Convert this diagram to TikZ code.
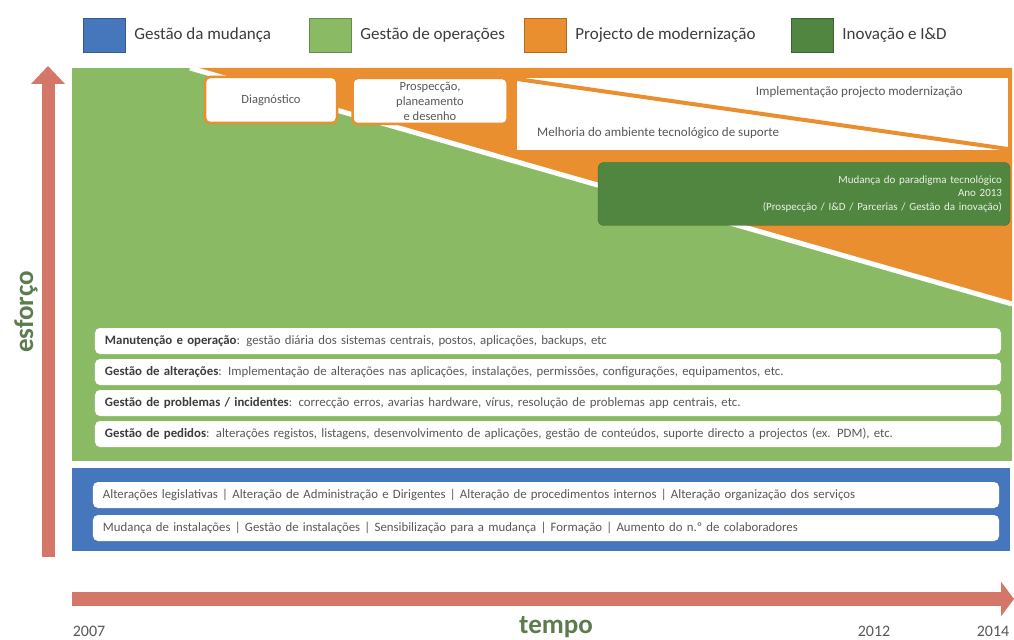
\documentclass[tikz,border=0pt]{standalone}
\usepackage{fontspec}
\setmainfont{Carlito}
\usetikzlibrary{arrows.meta, positioning}

\definecolor{mudanca}{RGB}{70,118,188}
\definecolor{operacoes}{RGB}{138,186,99}
\definecolor{modernizacao}{RGB}{234,143,48}
\definecolor{inovacao}{RGB}{80,134,64}
\definecolor{axisred}{RGB}{212,118,104}
\definecolor{labelgreen}{RGB}{92,124,78}
\definecolor{textgray}{RGB}{88,88,88}
\definecolor{boldgray}{RGB}{60,60,60}

\begin{document}
\begin{tikzpicture}[x=1bp, y=-1bp, node distance=31bp,
	legendbox/.style={draw=#1!75!black, fill=#1, minimum width=42bp, minimum height=34bp, inner sep=0pt},
	legendtext/.style={text=boldgray, font=\fontsize{17bp}{19bp}\selectfont, inner sep=0pt},
	task/.style={draw=modernizacao, line width=2.5bp, fill=white, rounded corners=5bp, text=textgray, align=center, font=\fontsize{12.5bp}{15bp}\selectfont},
	note/.style={text=textgray, font=\fontsize{13bp}{15bp}\selectfont, inner sep=0pt},
	bar/.style={fill=white, rounded corners=5bp, minimum height=26bp, text width=886bp, inner xsep=10bp, inner ysep=0pt, align=left, text=textgray, font=\fontsize{12.8bp}{14bp}\selectfont},
	axis/.style={draw=axisred, line width=13bp, -{Triangle[width=33bp, length=18bp]}},
	axislabel/.style={text=labelgreen, inner sep=0pt, font=\bfseries\fontsize{27bp}{29bp}\selectfont},
	year/.style={text=textgray, inner sep=0pt, font=\fontsize{16bp}{18bp}\selectfont}
]
	\useasboundingbox (0,0) rectangle (1014,640);

	\fill[operacoes] (72,68) rectangle (1012,461);
	\fill[modernizacao] (190,68) -- (1012,68) -- (1012,304) -- cycle;
	\begin{scope}
		\clip (72,68) rectangle (1012,461);
		\draw[white, line width=5bp] (190,68) -- (1012,304);
	\end{scope}
	\fill[white] (517,78) rectangle (1008,150);
	\draw[modernizacao, line width=4bp] (517,79) -- (1008,149);

	\node[task, minimum width=132bp, minimum height=46bp] (diag) at (271,100) {Diagnóstico};
	\node[task, minimum width=155bp, minimum height=46bp] (prosp) at (430,101) {Prospecção,\\planeamento\\e desenho};
	\node[note, anchor=east] (impl) at (963,92) {Implementação projecto modernização};
	\node[note, anchor=west] (melh) at (537,133) {Melhoria do ambiente tecnológico de suporte};

	\node[fill=inovacao, draw=inovacao!80!black, rounded corners=6bp, minimum width=412bp, minimum height=63bp, text width=396bp, inner xsep=8bp, align=right, text={rgb,255:red,236;green,242;blue,230}, font=\fontsize{11bp}{13.5bp}\selectfont] (paradigma) at (804,194) {Mudança do paradigma tecnológico\\Ano 2013\\(Prospecção / I\&D / Parcerias / Gestão da inovação)};

	\node[bar] (manut) at (548,341) {\textcolor{boldgray}{\textbf{Manutenção e operação}}: gestão diária dos sistemas centrais, postos, aplicações, backups, etc};
	\node[bar] (alter) [below of=manut] {\textcolor{boldgray}{\textbf{Gestão de alterações}}: Implementação de alterações nas aplicações, instalações, permissões, configurações, equipamentos, etc.};
	\node[bar] (probl) [below of=alter] {\textcolor{boldgray}{\textbf{Gestão de problemas / incidentes}}: correcção erros, avarias hardware, vírus, resolução de problemas app centrais, etc.};
	\node[bar] (pedid) [below of=probl] {\textcolor{boldgray}{\textbf{Gestão de pedidos}}: alterações registos, listagens, desenvolvimento de aplicações, gestão de conteúdos, suporte directo a projectos (ex. PDM), etc.};

	\fill[mudanca] (72,468) rectangle (1010,551);
	\node[bar] (legis) at (546,495) {Alterações legislativas | Alteração de Administração e Dirigentes | Alteração de procedimentos internos | Alteração organização dos serviços};
	\node[bar, node distance=33bp] (instal) [below of=legis] {Mudança de instalações | Gestão de instalações | Sensibilização para a mudança | Formação | Aumento do n.º de colaboradores};

	\node[legendbox=mudanca] (lmud) at (104,35) {};
	\node[legendtext, right=9bp of lmud] (tmud) {Gestão da mudança};
	\node[legendbox=operacoes] (lope) at (330,35) {};
	\node[legendtext, right=9bp of lope] (tope) {Gestão de operações};
	\node[legendbox=modernizacao] (lmod) at (545,35) {};
	\node[legendtext, right=9bp of lmod] (tmod) {Projecto de modernização};
	\node[legendbox=inovacao] (linov) at (812,35) {};
	\node[legendtext, right=9bp of linov] (tinov) {Inovação e I\&D};

	\coordinate (origin) at (48,557);
	\coordinate (ytop) at (48,66);
	\coordinate (xstart) at (72,599);
	\coordinate (xend) at (1014,599);
	\draw[axis] (origin) -- (ytop);
	\draw[axis, line width=14bp, -{Triangle[width=34bp, length=13bp]}] (xstart) -- (xend);

	\node[axislabel, rotate=90] (esforco) at (26,312) {esforço};
	\node[axislabel] (tempo) at (556,627) {tempo};
	\node[year] (y2007) at (89,631) {2007};
	\node[year] (y2012) at (874,631) {2012};
	\node[year] (y2014) at (993,631) {2014};
\end{tikzpicture}
\end{document}
